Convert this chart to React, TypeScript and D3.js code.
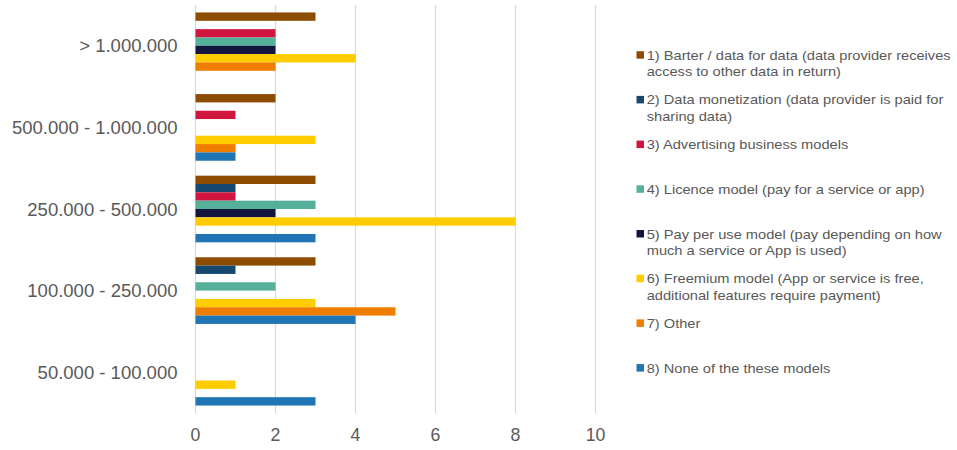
import React from "react";
import * as d3 from "d3";

const categories = [
  "> 1.000.000",
  "500.000 - 1.000.000",
  "250.000 - 500.000",
  "100.000 - 250.000",
  "50.000 - 100.000",
];

const seriesNames = [
  "1) Barter / data for data (data provider receives access to other data in return)",
  "2) Data monetization (data provider is paid for sharing data)",
  "3) Advertising business models",
  "4) Licence model (pay for a service or app)",
  "5) Pay per use model (pay depending on how much a service or App is used)",
  "6) Freemium model (App or service is free, additional features require payment)",
  "7) Other",
  "8) None of the these models",
];

const legendLines = [
  ["1) Barter / data for data (data provider receives", "access to other data in return)"],
  ["2) Data monetization (data provider is paid for", "sharing data)"],
  ["3) Advertising business models"],
  ["4) Licence model (pay for a service or app)"],
  ["5) Pay per use model (pay depending on how", "much a service or App is used)"],
  ["6) Freemium model (App or service is free,", "additional features require payment)"],
  ["7) Other"],
  ["8) None of the these models"],
];

const seriesColors = [
  "#8E4C00",
  "#17486F",
  "#D0163F",
  "#55B09A",
  "#12163F",
  "#FFCC00",
  "#EF7D00",
  "#2075B4",
];

// values per series, category order as in `categories`
const barter = [3, 2, 3, 3, 0];
const monetization = [0, 0, 1, 1, 0];
const advertising = [2, 1, 1, 0, 0];
const licence = [2, 0, 3, 2, 0];
const payPerUse = [2, 0, 2, 0, 0];
const freemium = [4, 3, 8, 3, 1];
const other = [2, 1, 0, 5, 0];
const none = [0, 1, 3, 4, 3];

const seriesValues = [barter, monetization, advertising, licence, payPerUse, freemium, other, none];

const xTicks = [0, 2, 4, 6, 8, 10];

const W = 957;
const H = 450;
const plot = { left: 195.5, right: 595.5, top: 5, bottom: 413 };
const FONT = "Arial, 'Liberation Sans', sans-serif";
const TEXT = "#595959";
const GRID = "#D9D9D9";

export default function App() {
  const x = d3.scaleLinear().domain([0, 10]).range([plot.left, plot.right]);
  const y = d3
    .scaleBand<string>()
    .domain(categories)
    .range([plot.top, plot.bottom])
    .paddingInner(0.183)
    .paddingOuter(0.0915);
  const ys = d3
    .scaleBand<number>()
    .domain(d3.range(seriesNames.length))
    .range([0, y.bandwidth()])
    .padding(0);

  const legendX = 636.5;
  const legendY0 = 55;
  const legendStep = 44.7;
  const lineH = 16.6;

  return (
    <svg
      width={W}
      height={H}
      style={{ position: "absolute", left: 0, top: 0, background: "#fff" }}
      fontFamily={FONT}
    >
      <rect x={0} y={0} width={W} height={H} fill="#fff" />
      {xTicks.map((t) => (
        <line
          key={"g" + t}
          x1={x(t)}
          x2={x(t)}
          y1={plot.top}
          y2={plot.bottom}
          stroke={GRID}
          strokeWidth={1.2}
        />
      ))}
      {seriesValues.map((vals, si) =>
        vals.map((v, ci) =>
          v > 0 ? (
            <rect
              key={`b${si}-${ci}`}
              x={x(0)}
              y={(y(categories[ci]) as number) + (ys(si) as number)}
              width={x(v) - x(0)}
              height={ys.bandwidth()}
              fill={seriesColors[si]}
            />
          ) : null
        )
      )}
      {categories.map((c) => (
        <text
          key={"c" + c}
          x={177.5}
          y={(y(c) as number) + y.bandwidth() / 2}
          textAnchor="end"
          dominantBaseline="central"
          fontSize={18.5}
          fill={TEXT}
        >
          {c}
        </text>
      ))}
      {xTicks.map((t) => (
        <text
          key={"t" + t}
          x={x(t)}
          y={435}
          textAnchor="middle"
          dominantBaseline="central"
          fontSize={17.7}
          fill={TEXT}
        >
          {t}
        </text>
      ))}
      {legendLines.map((lines, i) => {
        const cy = legendY0 + i * legendStep;
        return (
          <g key={"l" + i}>
            <rect x={legendX} y={cy - 3.8} width={7.5} height={7.5} fill={seriesColors[i]} />
            {lines.map((ln, j) => (
              <g key={j} transform={`translate(646.7,${cy + j * lineH}) scale(1.1,1)`}>
                <text x={0} y={0} dominantBaseline="central" fontSize={13.3} fill={TEXT}>
                  {ln}
                </text>
              </g>
            ))}
          </g>
        );
      })}
    </svg>
  );
}
